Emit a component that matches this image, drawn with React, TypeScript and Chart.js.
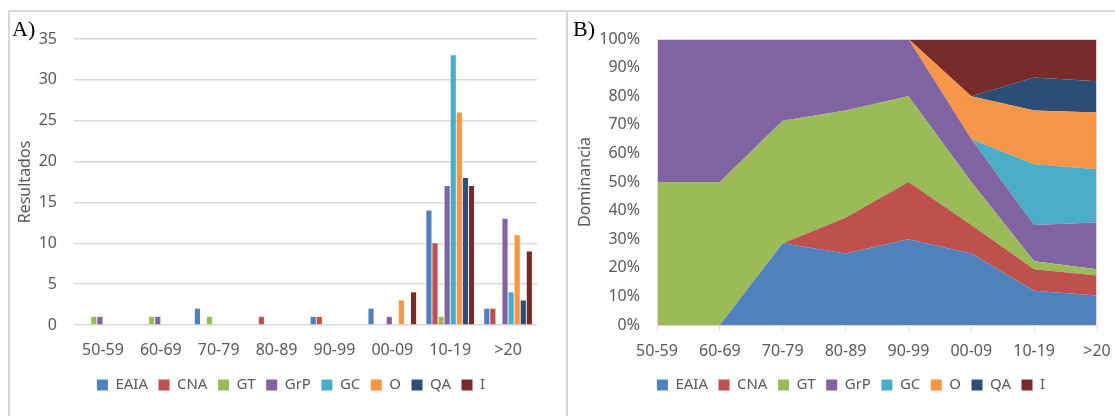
import React, { useEffect, useRef } from "react";
import { Chart, registerables } from "chart.js";
Chart.register(...registerables);

const categories = ["50-59", "60-69", "70-79", "80-89", "90-99", "00-09", "10-19", ">20"];
const seriesNames = ["EAIA", "CNA", "GT", "GrP", "GC", "O", "QA", "I"];
const seriesColors = ["#4F81BD", "#C0504D", "#9BBB59", "#8064A2", "#4BACC6", "#F79646", "#2C4D75", "#772C2A"];

// Panel A: Resultados (counts)
const eaiaA = [0, 0, 2, 0, 1, 2, 14, 2];
const cnaA = [0, 0, 0, 1, 1, 0, 10, 2];
const gtA = [1, 1, 1, 0, 0, 0, 1, 0];
const grpA = [1, 1, 0, 0, 0, 1, 17, 13];
const gcA = [0, 0, 0, 0, 0, 0, 33, 4];
const oA = [0, 0, 0, 0, 0, 3, 26, 11];
const qaA = [0, 0, 0, 0, 0, 0, 18, 3];
const iA = [0, 0, 0, 0, 0, 4, 17, 9];

// Panel B: Dominancia (%)
const eaiaB = [0, 0, 28.57, 25, 30, 25, 12, 10.3];
const cnaB = [0, 0, 0, 12.5, 20, 10, 7.5, 7];
const gtB = [50, 50, 42.86, 37.5, 30, 15, 2.75, 2.2];
const grpB = [50, 50, 28.57, 25, 20, 15, 12.75, 16.3];
const gcB = [0, 0, 0, 0, 0, 0, 21.25, 18.7];
const oB = [0, 0, 0, 0, 0, 15, 18.75, 19.8];
const qaB = [0, 0, 0, 0, 0, 0, 11.5, 10.9];
const iB = [0, 0, 0, 0, 0, 20, 13.5, 14.8];

const seriesA = [eaiaA, cnaA, gtA, grpA, gcA, oA, qaA, iA];
const seriesB = [eaiaB, cnaB, gtB, grpB, gcB, oB, qaB, iB];

const TEXT = "#595959";
const GRID = "#d9d9d9";
const FONT = "'Noto Sans', sans-serif";

const frame = {
  id: "frame",
  afterDatasetsDraw(chart: any) {
    const { ctx, chartArea } = chart;
    ctx.save();
    ctx.strokeStyle = GRID;
    ctx.lineWidth = 1;
    ctx.strokeRect(chartArea.left + 0.5, chartArea.top + 0.5, chartArea.right - chartArea.left - 1, chartArea.bottom - chartArea.top);
    ctx.restore();
  },
};

const legendOpts = {
  position: "bottom" as const,
  labels: {
    boxWidth: 11,
    boxHeight: 11,
    padding: 10.5,
    color: TEXT,
    font: { size: 15 },
  },
};

// invisible right-hand spacer axis (keeps the legend centred like the original)
const spacerAxis = (w: number) => ({
  type: "linear" as const,
  position: "right" as const,
  display: true,
  grid: { display: false, drawTicks: false },
  border: { display: false },
  ticks: { display: false },
  afterFit: (s: any) => { s.width = w; },
});

export default function App() {
  const refA = useRef<HTMLCanvasElement>(null);
  const refB = useRef<HTMLCanvasElement>(null);

  useEffect(() => {
    Chart.defaults.font.family = FONT;
    Chart.defaults.font.size = 16;
    Chart.defaults.color = TEXT;

    const chartA = new Chart(refA.current!, {
      type: "bar",
      data: {
        labels: categories,
        datasets: seriesNames.map((n, i) => ({
          label: n,
          data: seriesA[i],
          backgroundColor: seriesColors[i],
          borderWidth: 0,
          categoryPercentage: 0.84,
          barPercentage: 0.85,
        })),
      },
      options: {
        animation: false,
        responsive: false,
        devicePixelRatio: 1,
        layout: { padding: { top: 27, right: 0, bottom: 13.5, left: 0 } },
        plugins: { tooltip: { enabled: false }, legend: legendOpts },
        scales: {
          x: {
            grid: { display: false, drawTicks: false },
            border: { display: false },
            ticks: { padding: 16, color: TEXT, maxRotation: 0 },
            afterFit: (s: any) => { s.height = 42; },
          },
          y: {
            min: 0,
            max: 35,
            ticks: { stepSize: 5, padding: 17, color: TEXT },
            grid: { color: GRID, lineWidth: 1.5, drawTicks: false },
            border: { display: false },
            title: { display: true, text: "Resultados", color: TEXT, padding: { top: 5.4, bottom: 0 } },
            afterFit: (s: any) => { s.width = 64; },
          },
          yR: spacerAxis(35),
        },
      },
    });

    const chartB = new Chart(refB.current!, {
      type: "line",
      data: {
        labels: categories,
        datasets: seriesNames.map((n, i) => ({
          label: n,
          data: seriesB[i],
          backgroundColor: seriesColors[i],
          borderColor: seriesColors[i],
          borderWidth: 0,
          pointRadius: 0,
          tension: 0,
          fill: i === 0 ? "origin" : "-1",
        })),
      },
      options: {
        animation: false,
        responsive: false,
        devicePixelRatio: 1,
        layout: { padding: { top: 27, right: 0, bottom: 13.5, left: 0 } },
        plugins: { tooltip: { enabled: false }, legend: legendOpts },
        scales: {
          x: {
            offset: false,
            grid: { display: true, drawOnChartArea: false, drawTicks: true, tickLength: 6, color: GRID },
            border: { display: true, color: GRID },
            ticks: { padding: 11, color: TEXT, maxRotation: 0, autoSkip: false },
            afterFit: (s: any) => { s.height = 42; },
          },
          y: {
            stacked: true,
            min: 0,
            max: 100,
            ticks: { stepSize: 10, padding: 17, color: TEXT, callback: (v: any) => v + "%" },
            grid: { display: false, drawTicks: false },
            border: { display: false },
            title: { display: true, text: "Dominancia", color: TEXT, padding: { top: 7.4, bottom: 0 } },
            afterFit: (s: any) => { s.width = 89; },
          },
          yR: spacerAxis(37),
        },
      },
      plugins: [frame],
    });

    return () => {
      chartA.destroy();
      chartB.destroy();
    };
  }, []);

  const box = (left: number, width: number): React.CSSProperties => ({
    position: "absolute",
    left,
    top: 10,
    width,
    height: 420,
    border: `2px solid ${GRID}`,
    boxSizing: "border-box",
  });
  const letter = (left: number): React.CSSProperties => ({
    position: "absolute",
    left,
    top: 18,
    font: "22px 'Liberation Serif', serif",
    lineHeight: "22px",
    color: "#000",
    zIndex: 2,
  });

  return (
    <div style={{ position: "absolute", left: 0, top: 0, width: 1115, height: 416, overflow: "hidden", background: "#fff" }}>
      <div style={box(8, 560)} />
      <div style={box(566, 560)} />
      <canvas ref={refA} width={562} height={404} style={{ position: "absolute", left: 10, top: 12, width: 562, height: 404 }} />
      <canvas ref={refB} width={566} height={404} style={{ position: "absolute", left: 568, top: 12, width: 566, height: 404 }} />
      <div style={letter(12)}>A)</div>
      <div style={letter(573)}>B)</div>
    </div>
  );
}
